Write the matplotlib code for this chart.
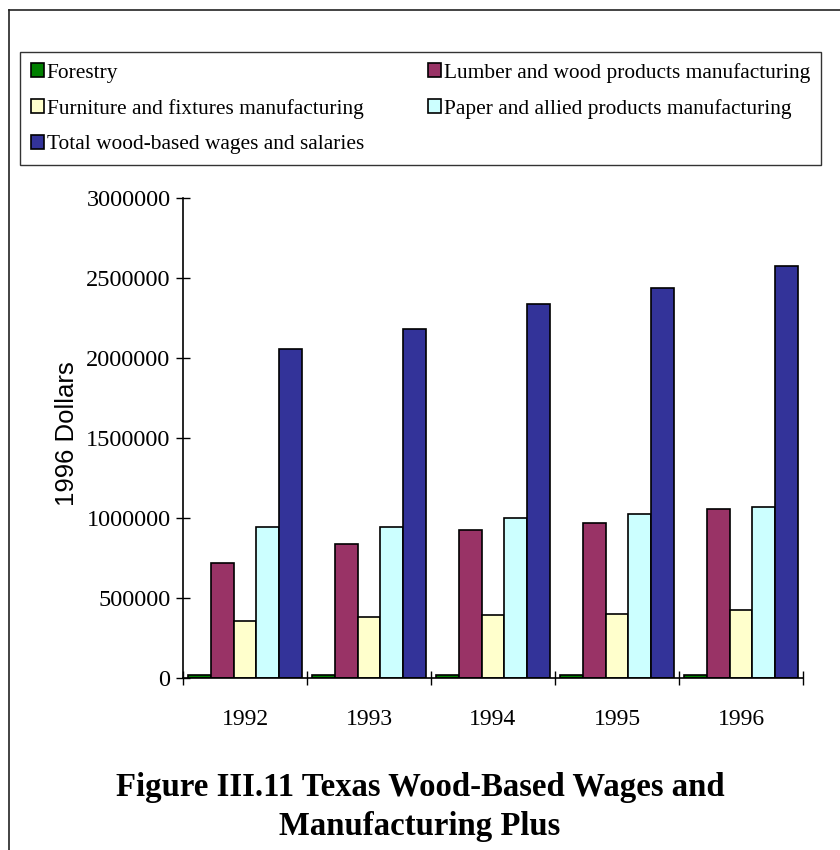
import numpy as np
import matplotlib
matplotlib.use("Agg")
import matplotlib.pyplot as plt
from matplotlib.lines import Line2D

years = ["1992", "1993", "1994", "1995", "1996"]
series_names = [
    "Forestry",
    "Lumber and wood products manufacturing",
    "Furniture and fixtures manufacturing",
    "Paper and allied products manufacturing",
    "Total wood-based wages and salaries",
]
forestry = [22000, 22000, 22000, 22000, 22000]
lumber = [722000, 836000, 925000, 970000, 1060000]
furniture = [358000, 381000, 395000, 404000, 424000]
paper = [946000, 946000, 1004000, 1026000, 1070000]
total = [2055000, 2182000, 2338000, 2438000, 2574000]
colors = ["#008000", "#993366", "#FFFFCC", "#CCFFFF", "#333399"]

values = [forestry, lumber, furniture, paper, total]

fig = plt.figure(figsize=(8.4, 8.5), dpi=100)
ax = fig.add_axes([183 / 840, 1 - 678.3 / 850, 620 / 840, 480.4 / 850])

x = np.arange(len(years))
w = 0.183
handles = []
for k, (name, vals, c) in enumerate(zip(series_names, values, colors)):
    b = ax.bar(x + (k - 2) * w, vals, width=w, color=c, edgecolor="black",
               linewidth=1.2, label=name)
    handles.append(b)

ax.set_xlim(-0.5, len(years) - 0.5)
ax.set_ylim(0, 3000000)
ax.set_yticks(np.arange(0, 3000001, 500000))
ax.set_yticklabels([str(v) for v in range(0, 3000001, 500000)])

# group separators as major ticks, year labels on minor ticks
ax.set_xticks(np.arange(-0.5, len(years), 1.0))
ax.set_xticklabels([])
ax.set_xticks(x, minor=True)
ax.set_xticklabels(years, minor=True)
ax.tick_params(axis="x", which="minor", length=0, pad=22)
ax.tick_params(axis="both", which="major", direction="inout", length=10,
               width=1, color="black")
ax.tick_params(axis="y", pad=4)

for lab in ax.get_yticklabels():
    lab.set_family("Liberation Serif")
    lab.set_fontsize(17.5)
for lab in ax.get_xticklabels(minor=True):
    lab.set_family("Liberation Serif")
    lab.set_fontsize(17)

for s in ["top", "right"]:
    ax.spines[s].set_visible(False)
for s in ["left", "bottom"]:
    ax.spines[s].set_linewidth(1.2)

ax.set_ylabel("1996 Dollars", family="Liberation Sans", fontsize=18.5)
ax.yaxis.set_label_coords(-0.167, 0.51)

# legend: left column Forestry / Furniture / Total, right column the rest
order = [0, 2, 4, 1, 3]
leg = fig.legend([handles[i] for i in order], [series_names[i] for i in order],
                 ncol=2, loc="upper left",
                 bbox_to_anchor=(20 / 840, 1 - 52 / 850),
                 bbox_transform=fig.transFigure,
                 prop={"family": "Liberation Serif", "size": 15.4},
                 frameon=True, fancybox=False, shadow=False,
                 borderpad=0.5, borderaxespad=0, handlelength=0.6,
                 handleheight=0.65, handletextpad=0.15, labelspacing=0.75,
                 columnspacing=3.0)
leg.get_frame().set_edgecolor("black")
leg.get_frame().set_linewidth(1.0)

fig.text(0.5, 1 - 807 / 850,
         "Figure III.11 Texas Wood-Based Wages and\nManufacturing Plus",
         ha="center", va="center", family="Liberation Serif",
         fontweight="bold", fontsize=23.6, linespacing=1.34)

# outer frame: top and left edges only
fig.add_artist(Line2D([9 / 840, 1.0], [1 - 9.5 / 850, 1 - 9.5 / 850],
                      transform=fig.transFigure, color="#222222", lw=1.2))
fig.add_artist(Line2D([9 / 840, 9 / 840], [0.0, 1 - 9.5 / 850],
                      transform=fig.transFigure, color="#222222", lw=1.2))

fig.savefig("out.png", dpi=100)
